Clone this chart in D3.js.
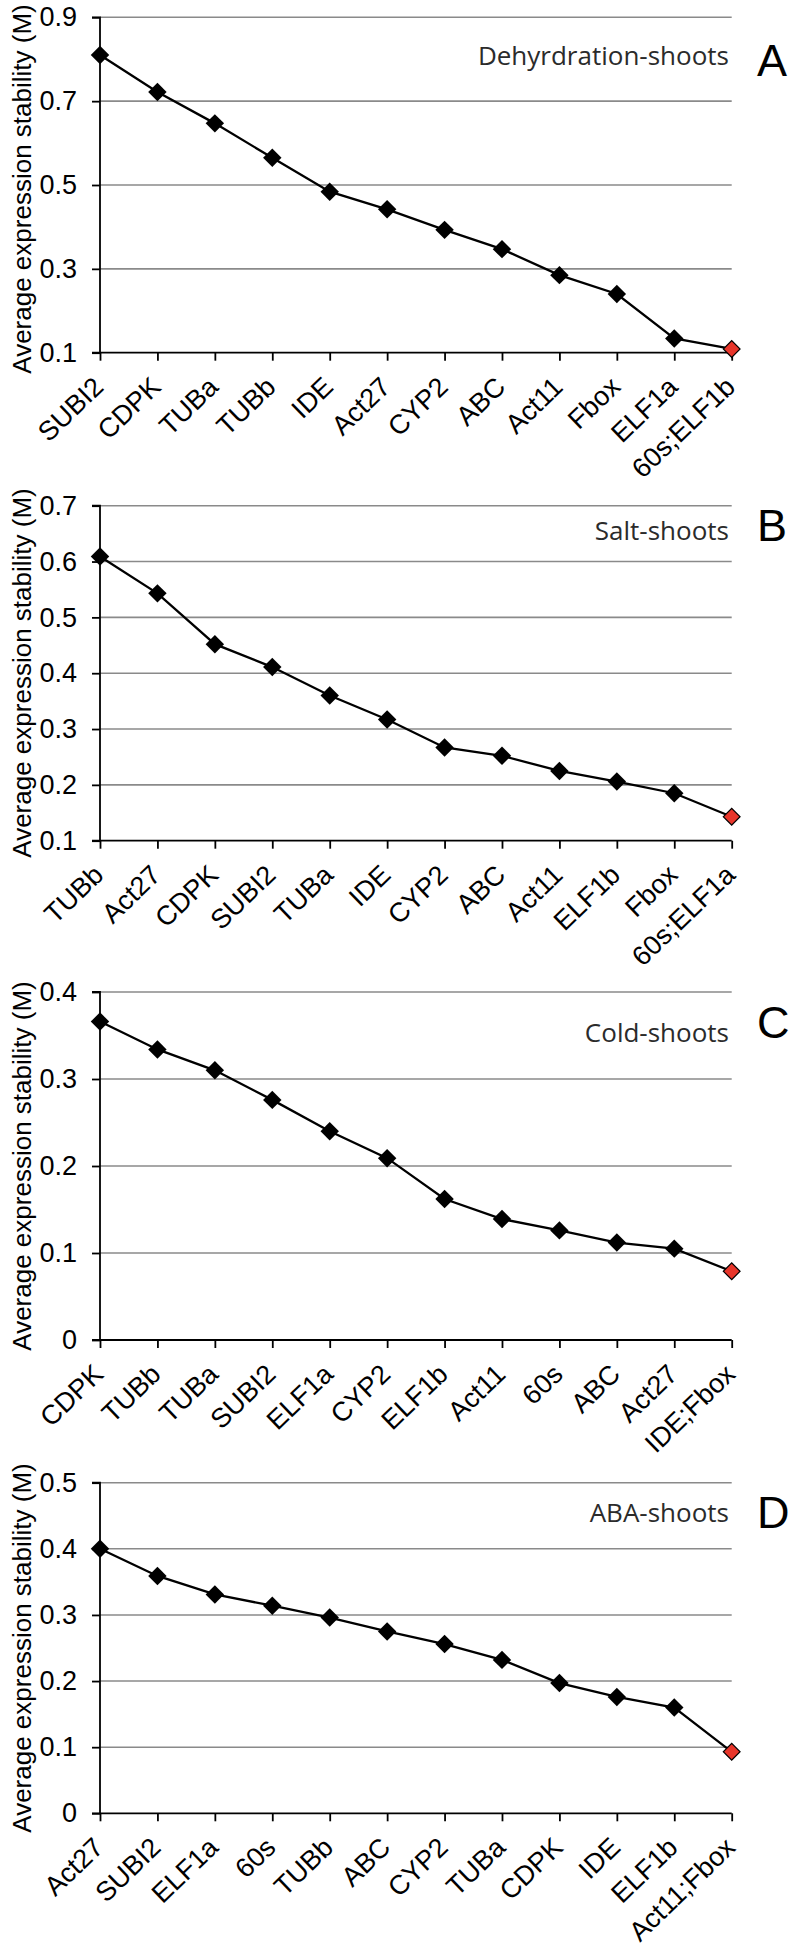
<!DOCTYPE html>
<html>
<head>
<meta charset="utf-8">
<script src="https://cdn.jsdelivr.net/npm/d3@7"></script>
<style>
  html, body { margin: 0; padding: 0; background: #fff; }
  svg { display: block; }
</style>
</head>
<body>
<svg id="chart" width="796" height="1952"></svg>
<script>
// ---------- data ----------
const panelLetters = ["A", "B", "C", "D"];
const panelTitles = ["Dehyrdration-shoots", "Salt-shoots", "Cold-shoots", "ABA-shoots"];
const yAxisTitle = "Average expression stability (M)";

const genesA = ["SUBI2", "CDPK", "TUBa", "TUBb", "IDE", "Act27", "CYP2", "ABC", "Act11", "Fbox", "ELF1a", "60s;ELF1b"];
const valuesA = [0.810, 0.722, 0.647, 0.565, 0.484, 0.442, 0.393, 0.347, 0.285, 0.240, 0.134, 0.109];
const ticksA = [0.1, 0.3, 0.5, 0.7, 0.9];
const tickLabelsA = ["0.1", "0.3", "0.5", "0.7", "0.9"];

const genesB = ["TUBb", "Act27", "CDPK", "SUBI2", "TUBa", "IDE", "CYP2", "ABC", "Act11", "ELF1b", "Fbox", "60s;ELF1a"];
const valuesB = [0.609, 0.543, 0.452, 0.411, 0.360, 0.317, 0.267, 0.252, 0.225, 0.206, 0.185, 0.143];
const ticksB = [0.1, 0.2, 0.3, 0.4, 0.5, 0.6, 0.7];
const tickLabelsB = ["0.1", "0.2", "0.3", "0.4", "0.5", "0.6", "0.7"];

const genesC = ["CDPK", "TUBb", "TUBa", "SUBI2", "ELF1a", "CYP2", "ELF1b", "Act11", "60s", "ABC", "Act27", "IDE;Fbox"];
const valuesC = [0.366, 0.334, 0.310, 0.276, 0.240, 0.209, 0.162, 0.139, 0.126, 0.112, 0.105, 0.079];
const ticksC = [0, 0.1, 0.2, 0.3, 0.4];
const tickLabelsC = ["0", "0.1", "0.2", "0.3", "0.4"];

const genesD = ["Act27", "SUBI2", "ELF1a", "60s", "TUBb", "ABC", "CYP2", "TUBa", "CDPK", "IDE", "ELF1b", "Act11;Fbox"];
const valuesD = [0.400, 0.359, 0.331, 0.314, 0.296, 0.275, 0.256, 0.232, 0.197, 0.176, 0.160, 0.093];
const ticksD = [0, 0.1, 0.2, 0.3, 0.4, 0.5];
const tickLabelsD = ["0", "0.1", "0.2", "0.3", "0.4", "0.5"];

// ---------- layout ----------
const svg = d3.select("#chart");
const xLeft = 100, xRight = 731.7;
const layout = [
  { top: 17.3,   bottom: 352.7,  titleY: 65,     letterY: 76,     yTitleC: 189 },
  { top: 505.7,  bottom: 840.7,  titleY: 540,    letterY: 540.7,  yTitleC: 673 },
  { top: 992,    bottom: 1340,   titleY: 1041.7, letterY: 1038,   yTitleC: 1166 },
  { top: 1482.7, bottom: 1813.3, titleY: 1521.7, letterY: 1528,   yTitleC: 1648 }
];
const panels = [
  { genes: genesA, values: valuesA, ticks: ticksA, tickLabels: tickLabelsA },
  { genes: genesB, values: valuesB, ticks: ticksB, tickLabels: tickLabelsB },
  { genes: genesC, values: valuesC, ticks: ticksC, tickLabels: tickLabelsC },
  { genes: genesD, values: valuesD, ticks: ticksD, tickLabels: tickLabelsD }
];

const arial = "'Liberation Sans', Arial, Helvetica, sans-serif";

panels.forEach((p, i) => {
  const L = layout[i];
  const g = svg.append("g");
  const x = d3.scalePoint().domain(p.genes).range([xLeft, xRight]).padding(0);
  const y = d3.scaleLinear().domain([p.ticks[0], p.ticks[p.ticks.length - 1]]).range([L.bottom, L.top]);

  // gridlines
  g.append("g").selectAll("line")
    .data(p.ticks.slice(1))
    .join("line")
    .attr("x1", xLeft).attr("x2", xRight)
    .attr("y1", d => y(d)).attr("y2", d => y(d))
    .attr("stroke", "#8a8a8a").attr("stroke-width", 1.6);

  // y axis
  const yAxis = d3.axisLeft(y).tickValues(p.ticks)
    .tickFormat((d, k) => p.tickLabels[k]).tickSize(8).tickPadding(15);
  const ya = g.append("g").attr("transform", `translate(${xLeft},0)`).call(yAxis);
  ya.select(".domain").attr("stroke", "#000").attr("stroke-width", 1.8).attr("d", `M-8,${L.top}H0V${L.bottom}`);
  ya.selectAll(".tick line").attr("stroke", "#000").attr("stroke-width", 1.8);
  ya.selectAll(".tick text").attr("font-family", arial).attr("font-size", 27).attr("fill", "#000");

  // x axis
  const xAxis = d3.axisBottom(x).tickSize(8).tickFormat("");
  const xa = g.append("g").attr("transform", `translate(0,${L.bottom})`).call(xAxis);
  xa.select(".domain").attr("stroke", "#000").attr("stroke-width", 1.8).attr("d", `M${xLeft - 8},0H${xRight}`);
  xa.selectAll(".tick line").attr("stroke", "#000").attr("stroke-width", 1.8);

  // x labels rotated
  g.append("g").selectAll("text")
    .data(p.genes)
    .join("text")
    .attr("transform", d => `translate(${x(d) + 5},${L.bottom + 36}) rotate(-44)`)
    .attr("text-anchor", "end")
    .attr("font-family", arial)
    .attr("font-size", 27)
    .attr("fill", "#000")
    .text(d => d);

  // line
  const pts = p.genes.map((gname, k) => [x(gname), y(p.values[k])]);
  g.append("path")
    .attr("d", d3.line()(pts))
    .attr("fill", "none").attr("stroke", "#000").attr("stroke-width", 2.3);

  // markers
  const n = p.genes.length;
  g.append("g").selectAll("path")
    .data(p.genes)
    .join("path")
    .attr("transform", (d, k) => `translate(${x(d)},${y(p.values[k])}) rotate(45)`)
    .attr("d", (d, k) => d3.symbol().type(d3.symbolSquare).size(k === n - 1 ? 140 : 170)())
    .attr("fill", (d, k) => k === n - 1 ? "#e8362b" : "#000")
    .attr("stroke", "#000")
    .attr("stroke-width", (d, k) => k === n - 1 ? 1.2 : 0);

  // title
  g.append("text")
    .attr("x", 729).attr("y", L.titleY)
    .attr("text-anchor", "end")
    .attr("font-family", "'Open Sans', sans-serif")
    .attr("font-size", 26)
    .attr("fill", "#2b2b2b")
    .text(panelTitles[i]);

  // panel letter
  g.append("text")
    .attr("x", 757).attr("y", L.letterY)
    .attr("font-family", arial)
    .attr("font-size", 45)
    .attr("fill", "#000")
    .text(panelLetters[i]);

  // y axis title
  g.append("text")
    .attr("transform", `translate(31,${L.yTitleC}) rotate(-90)`)
    .attr("text-anchor", "middle")
    .attr("font-family", arial)
    .attr("font-size", 26)
    .attr("fill", "#000")
    .text(yAxisTitle);
});
</script>
</body>
</html>
